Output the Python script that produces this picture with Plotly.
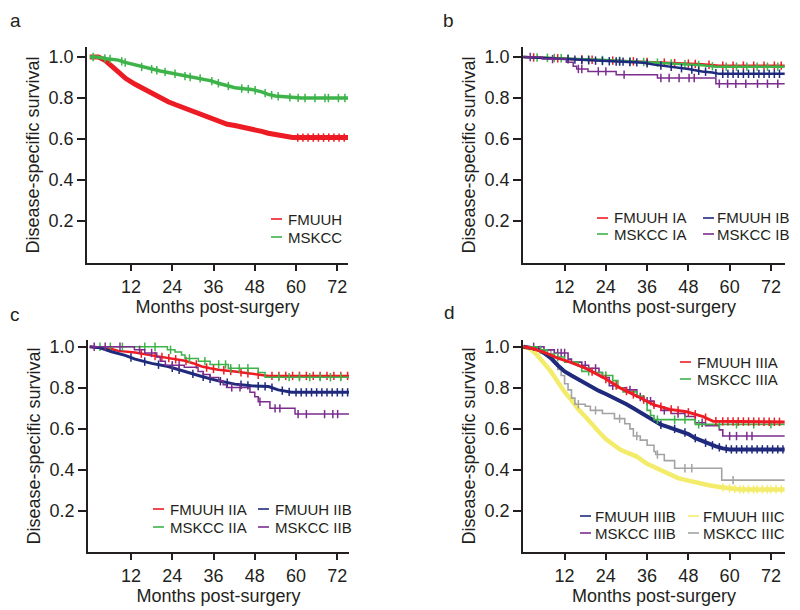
import numpy as np
import plotly.graph_objects as go

FONT = "Liberation Sans, Arial, Helvetica, sans-serif"
TXT = "#231f20"

RED = "#ed1c24"
GREEN = "#3db34a"
NAVY = "#1f2a7c"
PURPLE = "#7b2d8e"
YELLOW = "#f3ec6a"
GRAY = "#a3a3a3"

x_ticks = [12, 24, 36, 48, 60, 72]
y_ticks = [0.2, 0.4, 0.6, 0.8, 1.0]
y_tick_text = ["0.2", "0.4", "0.6", "0.8", "1.0"]
x_title = "Months post-surgery"
y_title = "Disease-specific survival"
panel_letters = ["a", "b", "c", "d"]

# ---------------- panel a ----------------
a_fmuuh_t = [0, 2.5, 4.4, 6.4, 8.3, 10.5, 13.2, 15.5, 18, 20.5, 22.8, 25, 27.7, 30, 32.6, 35, 37.4, 40, 42.2, 45, 47.1, 50, 51.9, 54, 56.7, 59, 75.3]
a_fmuuh_s = [1.0, 1.0, 0.985, 0.955, 0.928, 0.895, 0.867, 0.845, 0.823, 0.80, 0.782, 0.767, 0.75, 0.735, 0.717, 0.70, 0.684, 0.672, 0.666, 0.657, 0.649, 0.637, 0.628, 0.62, 0.614, 0.607, 0.607]
a_fmuuh_c = [60.5, 62, 63.5, 65, 66.5, 68, 69.5, 71, 72.5, 74]

a_mskcc_t = [0, 2, 5, 8.3, 10, 13.2, 15.5, 18, 20.5, 22.8, 25, 27.7, 30, 32.6, 35, 37.4, 40, 42.2, 45, 47.1, 50, 51.9, 54, 56.7, 59, 61.5, 75.3]
a_mskcc_s = [1.0, 1.0, 0.992, 0.985, 0.975, 0.961, 0.95, 0.941, 0.932, 0.925, 0.918, 0.907, 0.90, 0.895, 0.885, 0.872, 0.86, 0.85, 0.845, 0.842, 0.83, 0.818, 0.81, 0.806, 0.802, 0.80, 0.80]
a_mskcc_c = [1, 4.4, 5.9, 9.3, 10.3, 15.1, 18, 19.5, 21.9, 24.8, 27.7, 29.2, 32.1, 35.5, 37.4, 40.3, 44.2, 46.1, 48.1, 51, 52.9, 54.8, 58.2, 60.6, 62.6, 65.5, 68.4, 69.4, 72.3, 74.2]

# ---------------- panel b ----------------
b_fmuuh_ia_t = [0, 8, 15, 22, 30, 38, 45, 52, 57, 76]
b_fmuuh_ia_s = [1.0, 0.995, 0.99, 0.985, 0.98, 0.975, 0.97, 0.965, 0.958, 0.958]
b_fmuuh_ia_c = [3, 10, 17, 20, 26, 32, 36, 41, 44, 48, 50, 54, 58, 61, 64, 67, 70, 73, 75]

b_mskcc_ia_t = [0, 10, 17, 24, 32, 40, 46, 52, 56, 76]
b_mskcc_ia_s = [1.0, 0.995, 0.99, 0.985, 0.978, 0.972, 0.966, 0.96, 0.953, 0.953]
b_mskcc_ia_c = [4, 7, 9, 11, 13, 19, 23, 28, 31, 35, 39, 43, 47, 51, 55, 59, 62, 65, 68, 71, 74]

b_fmuuh_ib_t = [0, 6, 12, 18, 24, 30, 35, 38, 42, 45, 48, 52, 55, 57, 76]
b_fmuuh_ib_s = [1.0, 0.995, 0.99, 0.985, 0.98, 0.977, 0.972, 0.963, 0.955, 0.947, 0.942, 0.93, 0.925, 0.918, 0.918]
b_fmuuh_ib_c = [13, 15, 17, 19, 21, 23, 25, 27, 28, 29, 31, 33, 36, 40, 43, 46, 49, 51, 53, 56, 58, 59.5, 61, 62.5, 64, 65.5, 67, 68.5, 70, 71.5, 73, 74.5]

b_mskcc_ib_t = [0, 5.5, 12.5, 14.5, 15.5, 18.8, 27, 39, 56, 76]
b_mskcc_ib_s = [1.0, 0.99, 0.975, 0.955, 0.942, 0.93, 0.914, 0.898, 0.87, 0.87]
b_mskcc_ib_c = [2, 8.5, 16, 17, 21.8, 24, 29.3, 40, 42.4, 45.3, 48.2, 49.7, 57, 59.4, 61.8, 64.7, 68.1, 71, 74]

# ---------------- panel c ----------------
c_fmuuh_iia_t = [0, 4, 6.4, 8.3, 13.2, 18, 22.8, 27.7, 30, 32.6, 35, 37.4, 42.2, 47, 52, 75.4]
c_fmuuh_iia_s = [1.0, 0.995, 0.989, 0.98, 0.972, 0.958, 0.945, 0.932, 0.92, 0.904, 0.895, 0.888, 0.88, 0.868, 0.858, 0.858]
c_fmuuh_iia_c = [15, 19, 21, 23, 25, 28, 31, 34, 36, 39, 41, 44, 46, 49, 53, 55, 57, 59, 61, 63, 65, 67, 69, 71, 73, 75]

c_mskcc_iia_t = [0, 22.6, 24.8, 26.7, 27.7, 31.6, 35, 40.3, 49, 51, 75.4]
c_mskcc_iia_s = [1.0, 0.985, 0.975, 0.96, 0.943, 0.93, 0.914, 0.895, 0.875, 0.852, 0.852]
c_mskcc_iia_c = [3, 6, 9.5, 16, 19, 23.5, 29, 33.5, 37.5, 39.5, 41, 43.5, 46, 55, 58, 61, 64, 67, 70, 73]

c_fmuuh_iib_t = [0, 3, 6.4, 10.3, 13.2, 18, 22.8, 27.7, 32.6, 37.4, 42.2, 47, 52, 54.8, 58.7, 75.4]
c_fmuuh_iib_s = [1.0, 0.995, 0.976, 0.958, 0.94, 0.919, 0.904, 0.879, 0.855, 0.834, 0.818, 0.81, 0.806, 0.79, 0.778, 0.778]
c_fmuuh_iib_c = [12, 16, 20, 24, 26, 30, 33, 35, 38, 40, 44, 46, 49, 51, 53, 56, 58, 60, 61.5, 63, 64.5, 66, 67.5, 69, 70.5, 72, 73.5, 75]

c_mskcc_iib_t = [0, 13, 16, 19.5, 20.5, 22, 27.5, 31.5, 33, 35, 37.5, 38.8, 39.8, 46.6, 48, 49, 52.4, 59.7, 75.4]
c_mskcc_iib_s = [1.0, 0.985, 0.97, 0.95, 0.93, 0.91, 0.90, 0.88, 0.865, 0.85, 0.835, 0.815, 0.802, 0.778, 0.757, 0.732, 0.70, 0.672, 0.672]
c_mskcc_iib_c = [1.3, 4.5, 8.8, 14.5, 18, 24, 26, 41.3, 43.7, 49.5, 53.9, 55.3, 60.6, 63, 68.3, 70.7, 72.1]

# ---------------- panel d ----------------
d_fmuuh_iiia_t = [0, 3, 6.8, 10, 13.6, 18.4, 23.3, 28.1, 33, 37.8, 42.6, 47.5, 52.3, 55.2, 76]
d_fmuuh_iiia_s = [1.0, 0.99, 0.968, 0.945, 0.925, 0.893, 0.85, 0.80, 0.76, 0.718, 0.695, 0.683, 0.66, 0.637, 0.634]
d_fmuuh_iiia_c = [20, 24, 27, 30, 32, 35, 38, 40, 43, 45, 48, 50, 53, 56, 58, 59.5, 61, 62.5, 64, 65.5, 67, 68.5, 70, 71.5, 73, 74.5]

d_mskcc_iiia_t = [0, 4, 7, 9, 12, 16, 17, 20, 23, 26, 27.5, 29, 33, 35, 36, 37, 38, 50, 76]
d_mskcc_iiia_s = [1.0, 0.985, 0.965, 0.95, 0.925, 0.905, 0.88, 0.875, 0.86, 0.835, 0.80, 0.78, 0.76, 0.735, 0.69, 0.665, 0.645, 0.622, 0.622]
d_mskcc_iiia_c = [5, 10, 19, 24, 39, 44, 47, 51, 57, 62, 67, 72]

d_fmuuh_iiib_t = [0, 4, 6, 8, 10, 12, 14, 16, 18, 20, 22, 24, 26, 28, 30, 32, 34, 36, 38, 40, 42, 44, 46, 48, 50, 52, 54, 56, 58, 60, 76]
d_fmuuh_iiib_s = [1.0, 0.99, 0.97, 0.945, 0.91, 0.88, 0.86, 0.84, 0.825, 0.805, 0.785, 0.77, 0.755, 0.74, 0.72, 0.70, 0.68, 0.655, 0.635, 0.62, 0.61, 0.60, 0.59, 0.575, 0.555, 0.54, 0.525, 0.515, 0.505, 0.50, 0.50]
d_fmuuh_iiib_c = [40, 44, 47, 50, 53, 55, 57, 59, 60.5, 62, 63.5, 65, 66.5, 68, 69.5, 71, 72.5, 74, 75.5]

d_mskcc_iiib_t = [0, 6, 9, 13, 14, 17, 19, 22, 23, 25, 27.5, 30, 33, 35, 38, 40, 43, 47, 50, 53, 57, 58, 76]
d_mskcc_iiib_s = [1.0, 0.985, 0.97, 0.94, 0.925, 0.91, 0.895, 0.875, 0.85, 0.81, 0.80, 0.79, 0.755, 0.735, 0.71, 0.69, 0.675, 0.66, 0.63, 0.615, 0.595, 0.565, 0.565]
d_mskcc_iiib_c = [3, 10, 11, 12, 18, 21, 26, 31, 34, 36, 37, 41, 45, 52, 60, 62, 65, 66.5]

d_fmuuh_iiic_t = [0, 2, 4, 6, 8, 10, 12, 14, 16, 18, 20, 22, 24, 26, 28, 30, 33, 36, 39, 42, 45, 48, 51, 54, 57, 60, 63, 76]
d_fmuuh_iiic_s = [1.0, 0.99, 0.96, 0.92, 0.88, 0.83, 0.78, 0.74, 0.695, 0.66, 0.62, 0.585, 0.55, 0.525, 0.50, 0.485, 0.465, 0.43, 0.405, 0.38, 0.36, 0.348, 0.335, 0.325, 0.317, 0.31, 0.305, 0.305]
d_fmuuh_iiic_c = [58, 60, 61.5, 63, 64, 65.5, 67, 68, 69.5, 71, 72, 73.5, 75]

d_mskcc_iiic_t = [0, 5, 8, 9, 10, 11, 12, 13, 14, 15, 18, 19.5, 23, 26.5, 29.5, 31, 32, 34, 36, 38, 38.5, 41, 44, 57.7, 76]
d_mskcc_iiic_s = [1.0, 0.985, 0.95, 0.92, 0.89, 0.86, 0.82, 0.79, 0.75, 0.72, 0.71, 0.69, 0.675, 0.65, 0.625, 0.60, 0.565, 0.545, 0.52, 0.49, 0.475, 0.445, 0.408, 0.35, 0.35]
d_mskcc_iiic_c = [16, 21, 28, 33, 39, 47, 49, 61]

# (panel, name, color, times, survival, censor times, smooth?, line width)
series = [
    (0, "FMUUH", RED, a_fmuuh_t, a_fmuuh_s, a_fmuuh_c, True, 5),
    (0, "MSKCC", GREEN, a_mskcc_t, a_mskcc_s, a_mskcc_c, True, 3.5),
    (1, "FMUUH IA", RED, b_fmuuh_ia_t, b_fmuuh_ia_s, b_fmuuh_ia_c, True, 2.5),
    (1, "MSKCC IA", GREEN, b_mskcc_ia_t, b_mskcc_ia_s, b_mskcc_ia_c, True, 2.5),
    (1, "FMUUH IB", NAVY, b_fmuuh_ib_t, b_fmuuh_ib_s, b_fmuuh_ib_c, True, 2.5),
    (1, "MSKCC IB", PURPLE, b_mskcc_ib_t, b_mskcc_ib_s, b_mskcc_ib_c, False, 1.5),
    (2, "FMUUH IIA", RED, c_fmuuh_iia_t, c_fmuuh_iia_s, c_fmuuh_iia_c, True, 2.5),
    (2, "MSKCC IIA", GREEN, c_mskcc_iia_t, c_mskcc_iia_s, c_mskcc_iia_c, False, 1.5),
    (2, "FMUUH IIB", NAVY, c_fmuuh_iib_t, c_fmuuh_iib_s, c_fmuuh_iib_c, True, 3),
    (2, "MSKCC IIB", PURPLE, c_mskcc_iib_t, c_mskcc_iib_s, c_mskcc_iib_c, False, 1.5),
    (3, "FMUUH IIIC", YELLOW, d_fmuuh_iiic_t, d_fmuuh_iiic_s, d_fmuuh_iiic_c, True, 4.5),
    (3, "MSKCC IIIC", GRAY, d_mskcc_iiic_t, d_mskcc_iiic_s, d_mskcc_iiic_c, False, 1.6),
    (3, "FMUUH IIIB", NAVY, d_fmuuh_iiib_t, d_fmuuh_iiib_s, d_fmuuh_iiib_c, True, 4),
    (3, "MSKCC IIIB", PURPLE, d_mskcc_iiib_t, d_mskcc_iiib_s, d_mskcc_iiib_c, False, 1.6),
    (3, "MSKCC IIIA", GREEN, d_mskcc_iiia_t, d_mskcc_iiia_s, d_mskcc_iiia_c, False, 1.6),
    (3, "FMUUH IIIA", RED, d_fmuuh_iiia_t, d_fmuuh_iiia_s, d_fmuuh_iiia_c, True, 3),
]

# ---------------- layout geometry ----------------
# page body has an 8 px margin: figure spans screen 8..800 x 8..610
OFF = 8
W, H = 792, 602


def fx(px):
    return (px - OFF) / W


def fy(py):
    return 1 - (py - OFF) / H


# panel boxes in screen pixels: (left, right, top, bottom)
boxes = [(87, 348, 47, 263), (523, 785, 47, 263), (88, 349, 340, 552), (523, 785, 340, 552)]
x_ranges = [[-0.8, 75.1], [-0.1, 76.1], [-0.5, 75.4], [-0.1, 76.1]]
y_ranges = [[-0.005, 1.049], [-0.005, 1.049], [0.0, 1.033], [0.0, 1.033]]
# letter positions: (left px, centre-y px)
letter_pos = [(8, 20), (441, 20), (8, 314), (442, 312)]

# legend entries: (label, color, dash-left px, text-left px, row-centre px)
legend_items = [
    ("FMUUH", RED, 271, 287, 219), ("MSKCC", GREEN, 271, 287, 237),
    ("FMUUH IA", RED, 597, 613, 218), ("MSKCC IA", GREEN, 597, 613, 234),
    ("FMUUH IB", NAVY, 703, 716, 218), ("MSKCC IB", PURPLE, 703, 716, 234),
    ("FMUUH IIA", RED, 153, 169, 509), ("MSKCC IIA", GREEN, 153, 169, 527),
    ("FMUUH IIB", NAVY, 258, 274, 509), ("MSKCC IIB", PURPLE, 258, 274, 527),
    ("FMUUH IIIA", RED, 680, 696, 362), ("MSKCC IIIA", GREEN, 680, 696, 379),
    ("FMUUH IIIB", NAVY, 580, 594, 516), ("MSKCC IIIB", PURPLE, 580, 594, 533),
    ("FMUUH IIIC", YELLOW, 688, 702, 516), ("MSKCC IIIC", GRAY, 688, 702, 533),
]

fig = go.Figure()


def step_value(t, s, c):
    t = np.asarray(t)
    s = np.asarray(s)
    idx = np.searchsorted(t, c, side="right") - 1
    idx = np.clip(idx, 0, len(s) - 1)
    return s[idx]


for panel, name, color, t, s, cens, smooth, lw in series:
    suffix = "" if panel == 0 else str(panel + 1)
    xa, ya = "x" + suffix, "y" + suffix
    fig.add_trace(go.Scatter(
        x=t, y=s, mode="lines", name=name, xaxis=xa, yaxis=ya,
        line=dict(color=color, width=lw, shape="linear" if smooth else "hv"),
        showlegend=False, hoverinfo="skip"))
    cens = np.asarray(cens, dtype=float)
    cy = np.interp(cens, t, s) if smooth else step_value(t, s, cens)
    fig.add_trace(go.Scatter(
        x=cens, y=cy, mode="markers", name=name + " censored", xaxis=xa, yaxis=ya,
        marker=dict(symbol="line-ns", size=6, line=dict(color=color, width=1.5)),
        showlegend=False, hoverinfo="skip"))

layout = dict(
    width=W, height=H, margin=dict(l=0, r=0, t=0, b=0),
    paper_bgcolor="white", plot_bgcolor="white", showlegend=False,
    font=dict(family=FONT, color=TXT, size=16),
)

for i, (l, r, tp, bt) in enumerate(boxes):
    suffix = "" if i == 0 else str(i + 1)
    layout["xaxis" + suffix] = dict(
        domain=[fx(l), fx(r)], anchor="y" + suffix, range=x_ranges[i],
        tickvals=x_ticks, ticks="outside", ticklen=6, tickwidth=1.5, tickcolor=TXT,
        showline=True, linecolor=TXT, linewidth=1.8, showgrid=False, zeroline=False,
        tickfont=dict(size=18, family=FONT, color=TXT),
        title=dict(text=x_title, font=dict(size=18, family=FONT, color=TXT), standoff=5),
        automargin=False, fixedrange=True)
    layout["yaxis" + suffix] = dict(
        domain=[fy(bt), fy(tp)], anchor="x" + suffix, range=y_ranges[i],
        tickvals=y_ticks, ticktext=y_tick_text, ticks="outside", ticklen=8, tickwidth=1.5,
        tickcolor=TXT, showline=True, linecolor=TXT, linewidth=1.8, showgrid=False,
        zeroline=False, tickfont=dict(size=18, family=FONT, color=TXT),
        title=dict(text=y_title, font=dict(size=18, family=FONT, color=TXT), standoff=4),
        automargin=False, fixedrange=True)

shapes = []
annotations = []
for label, color, xl, xt, yc in legend_items:
    shapes.append(dict(type="line", xref="paper", yref="paper",
                       x0=fx(xl), x1=fx(xl + 11), y0=fy(yc), y1=fy(yc),
                       line=dict(color=color, width=1.6)))
    annotations.append(dict(xref="paper", yref="paper", x=fx(xt), y=fy(yc),
                            text=label, showarrow=False, xanchor="left", yanchor="middle",
                            xshift=-1, font=dict(size=15, family=FONT, color=TXT)))
for letter, (lx, ly) in zip(panel_letters, letter_pos):
    annotations.append(dict(xref="paper", yref="paper", x=fx(lx), y=fy(ly),
                            text=letter, showarrow=False, xanchor="left", yanchor="middle",
                            font=dict(size=19, family=FONT, color=TXT)))

layout["shapes"] = shapes
layout["annotations"] = annotations
fig.update_layout(**layout)
fig.write_html("out.html")
